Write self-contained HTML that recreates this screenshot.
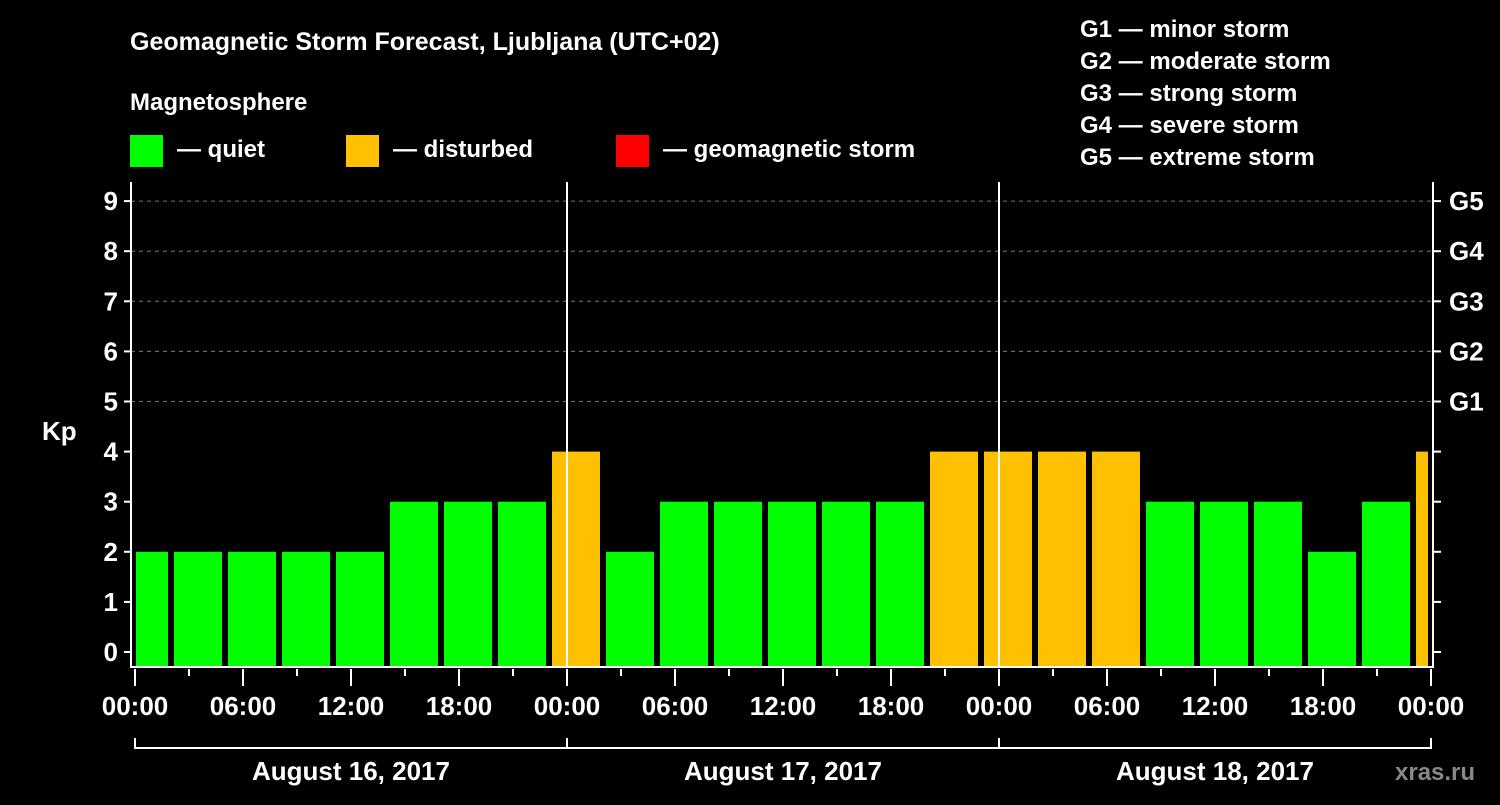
<!DOCTYPE html>
<html><head><meta charset="utf-8"><style>
body{margin:0;background:#000;width:1500px;height:800px;overflow:hidden}
svg text{font-family:"Liberation Sans",Arial,sans-serif;font-weight:bold;fill:#fff}
</style></head><body>
<svg width="1500" height="800" id="chart">
<text x="130" y="50" font-size="25">Geomagnetic Storm Forecast, Ljubljana (UTC+02)</text>
<text x="130" y="110" font-size="24">Magnetosphere</text>
<g><rect x="130" y="135" width="33" height="32" fill="#00ff00"/><text x="177" y="157" font-size="24">— quiet</text></g>
<g><rect x="346" y="135" width="33" height="32" fill="#ffc000"/><text x="393" y="157" font-size="24">— disturbed</text></g>
<g><rect x="616" y="135" width="33" height="32" fill="#ff0000"/><text x="663" y="157" font-size="24">— geomagnetic storm</text></g>
<g font-size="24">
<text x="1080" y="37">G1 — minor storm</text><text x="1080" y="69">G2 — moderate storm</text><text x="1080" y="101">G3 — strong storm</text><text x="1080" y="133">G4 — severe storm</text><text x="1080" y="165">G5 — extreme storm</text>
</g>
<text x="42" y="440" font-size="26">Kp</text>
<text x="1395" y="780" font-size="24" style="fill:#888">xras.ru</text>
<g id="plot"></g>
</svg>
<script>
const kpValues=[2,2,2,2,2,3,3,3,4,2,3,3,3,3,3,4,4,4,4,3,3,3,2,3,4];
const yTicks=[0,1,2,3,4,5,6,7,8,9];
const gLabels=["G1","G2","G3","G4","G5"];
const hourLabels=["00:00","06:00","12:00","18:00"];
const dayLabels=["August 16, 2017","August 17, 2017","August 18, 2017"];
const NS="http://www.w3.org/2000/svg";
const X0=135,DAY=432,L=131,R=1433,T=182,B=667;
const xh=h=>X0+h*DAY/24;
const y=k=>652-k*50.1;
const g=document.getElementById('plot');
function mk(tag,attrs,parent){const e=document.createElementNS(NS,tag);for(const k in attrs)e.setAttribute(k,attrs[k]);(parent||g).appendChild(e);return e;}
// grid
for(let k=5;k<=9;k++){const l=mk('line',{x1:L,x2:R,y1:y(k),y2:y(k),stroke:'#777','stroke-dasharray':'4,4'});

}
// bars
kpValues.forEach((v,i)=>{let x1=xh(3*i+0.5)-24,x2=x1+48;x1=Math.max(x1,136);x2=Math.min(x2,1428);
const r=mk('rect',{x:x1,y:y(v),width:x2-x1,height:B-y(v),fill:v>=5?'#ff0000':(v>=4?'#ffc000':'#00ff00')});

});
// day separators
for(let d=1;d<3;d++){const l=mk('line',{x1:X0+d*DAY,x2:X0+d*DAY,y1:T,y2:B,stroke:'#fff','stroke-width':2});

}
// frame
const f=mk('path',{d:`M${L} ${T}V${B}H${R}V${T}`,fill:'none',stroke:'#fff','stroke-width':2});


// y ticks
yTicks.forEach(k=>{mk('line',{x1:L-7,x2:L,y1:y(k),y2:y(k),stroke:'#fff','stroke-width':2});mk('line',{x1:R,x2:R+8,y1:y(k),y2:y(k),stroke:'#fff','stroke-width':2});
const t=mk('text',{x:118,y:y(k)+9,'font-size':26,'text-anchor':'end'});t.textContent=k;

});
gLabels.forEach((s,i)=>{const t=mk('text',{x:1449,y:y(5+i)+9,'font-size':26});t.textContent=s;

});
// x ticks
for(let h=0;h<=72;h+=3){const maj=h%6===0;mk('line',{x1:xh(h),x2:xh(h),y1:B+2,y2:B+(maj?19:9),stroke:'#fff','stroke-width':2});
if(maj){const t=mk('text',{x:xh(h),y:715,'font-size':26,'text-anchor':'middle'});t.textContent=hourLabels[(h/6)%4];

}}
// day bracket
mk('path',{d:`M${X0} 738V748H${X0+3*DAY}V738`,fill:'none',stroke:'#fff','stroke-width':2});
for(let d=1;d<3;d++)mk('line',{x1:X0+d*DAY,x2:X0+d*DAY,y1:738,y2:748,stroke:'#fff','stroke-width':2});
dayLabels.forEach((s,d)=>{const t=mk('text',{x:X0+d*DAY+DAY/2,y:780,'font-size':26,'text-anchor':'middle'});t.textContent=s;

});
</script>
</body></html>
